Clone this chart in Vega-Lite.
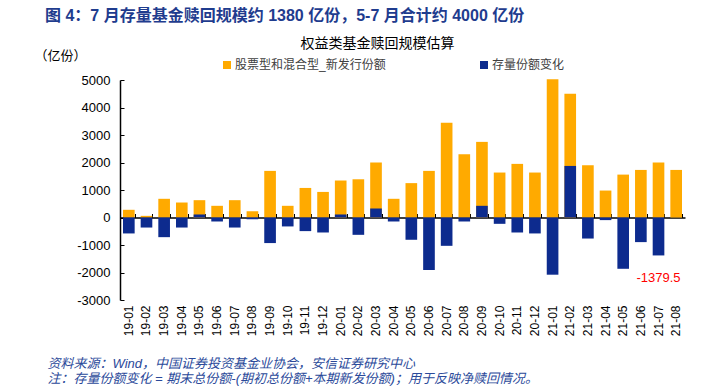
{
  "$schema": "https://vega.github.io/schema/vega-lite/v6.json",
  "width": 565,
  "height": 220,
  "autosize": {"type": "none"},
  "padding": {"left": 120, "top": 80, "right": 32, "bottom": 86},
  "background": "white",
  "config": {"view": {"stroke": null}, "font": "Liberation Sans, Noto Sans CJK SC", "axisY": {"labelOverlap": false}},
  "title": {
    "text": "图 4：7 月存量基金赎回规模约 1380 亿份，5-7 月合计约 4000 亿份",
    "anchor": "start",
    "frame": "group",
    "dx": -75,
    "offset": 12,
    "fontSize": 16,
    "fontWeight": "bold",
    "color": "#1F3C8E",
    "font": "Liberation Sans, Noto Sans CJK SC"
  },
  "data": {
    "values": [
      {"m": "19-01", "s": "股票型和混合型_新发行份额", "v": 280},
      {"m": "19-02", "s": "股票型和混合型_新发行份额", "v": 60},
      {"m": "19-03", "s": "股票型和混合型_新发行份额", "v": 680},
      {"m": "19-04", "s": "股票型和混合型_新发行份额", "v": 545},
      {"m": "19-05", "s": "股票型和混合型_新发行份额", "v": 630},
      {"m": "19-06", "s": "股票型和混合型_新发行份额", "v": 425},
      {"m": "19-07", "s": "股票型和混合型_新发行份额", "v": 630},
      {"m": "19-08", "s": "股票型和混合型_新发行份额", "v": 230},
      {"m": "19-09", "s": "股票型和混合型_新发行份额", "v": 1695},
      {"m": "19-10", "s": "股票型和混合型_新发行份额", "v": 425},
      {"m": "19-11", "s": "股票型和混合型_新发行份额", "v": 1075},
      {"m": "19-12", "s": "股票型和混合型_新发行份额", "v": 930},
      {"m": "20-01", "s": "股票型和混合型_新发行份额", "v": 1345},
      {"m": "20-02", "s": "股票型和混合型_新发行份额", "v": 1390},
      {"m": "20-03", "s": "股票型和混合型_新发行份额", "v": 2000},
      {"m": "20-04", "s": "股票型和混合型_新发行份额", "v": 680},
      {"m": "20-05", "s": "股票型和混合型_新发行份额", "v": 1250},
      {"m": "20-06", "s": "股票型和混合型_新发行份额", "v": 1695},
      {"m": "20-07", "s": "股票型和混合型_新发行份额", "v": 3450},
      {"m": "20-08", "s": "股票型和混合型_新发行份额", "v": 2300},
      {"m": "20-09", "s": "股票型和混合型_新发行份额", "v": 2750},
      {"m": "20-10", "s": "股票型和混合型_新发行份额", "v": 1635},
      {"m": "20-11", "s": "股票型和混合型_新发行份额", "v": 1950},
      {"m": "20-12", "s": "股票型和混合型_新发行份额", "v": 1635},
      {"m": "21-01", "s": "股票型和混合型_新发行份额", "v": 5030},
      {"m": "21-02", "s": "股票型和混合型_新发行份额", "v": 4500},
      {"m": "21-03", "s": "股票型和混合型_新发行份额", "v": 1900},
      {"m": "21-04", "s": "股票型和混合型_新发行份额", "v": 980},
      {"m": "21-05", "s": "股票型和混合型_新发行份额", "v": 1560},
      {"m": "21-06", "s": "股票型和混合型_新发行份额", "v": 1730},
      {"m": "21-07", "s": "股票型和混合型_新发行份额", "v": 2000},
      {"m": "21-08", "s": "股票型和混合型_新发行份额", "v": 1730},
      {"m": "19-01", "s": "存量份额变化", "v": -580},
      {"m": "19-02", "s": "存量份额变化", "v": -365},
      {"m": "19-03", "s": "存量份额变化", "v": -715},
      {"m": "19-04", "s": "存量份额变化", "v": -365},
      {"m": "19-05", "s": "存量份额变化", "v": 110},
      {"m": "19-06", "s": "存量份额变化", "v": -145},
      {"m": "19-07", "s": "存量份额变化", "v": -365},
      {"m": "19-08", "s": "存量份额变化", "v": -60},
      {"m": "19-09", "s": "存量份额变化", "v": -930},
      {"m": "19-10", "s": "存量份额变化", "v": -325},
      {"m": "19-11", "s": "存量份额变化", "v": -495},
      {"m": "19-12", "s": "存量份额变化", "v": -545},
      {"m": "20-01", "s": "存量份额变化", "v": 110},
      {"m": "20-02", "s": "存量份额变化", "v": -630},
      {"m": "20-03", "s": "存量份额变化", "v": 325},
      {"m": "20-04", "s": "存量份额变化", "v": -145},
      {"m": "20-05", "s": "存量份额变化", "v": -810},
      {"m": "20-06", "s": "存量份额变化", "v": -1910},
      {"m": "20-07", "s": "存量份额变化", "v": -1030},
      {"m": "20-08", "s": "存量份额变化", "v": -145},
      {"m": "20-09", "s": "存量份额变化", "v": 425},
      {"m": "20-10", "s": "存量份额变化", "v": -230},
      {"m": "20-11", "s": "存量份额变化", "v": -545},
      {"m": "20-12", "s": "存量份额变化", "v": -580},
      {"m": "21-01", "s": "存量份额变化", "v": -2080},
      {"m": "21-02", "s": "存量份额变化", "v": 1875},
      {"m": "21-03", "s": "存量份额变化", "v": -765},
      {"m": "21-04", "s": "存量份额变化", "v": -95},
      {"m": "21-05", "s": "存量份额变化", "v": -1865},
      {"m": "21-06", "s": "存量份额变化", "v": -895},
      {"m": "21-07", "s": "存量份额变化", "v": -1379.5}
    ]
  },
  "layer": [
    {
      "mark": {"type": "bar"},
      "encoding": {
        "x": {
          "field": "m",
          "type": "ordinal",
          "sort": null,
          "scale": {"paddingInner": 0.34, "paddingOuter": 0.17},
          "axis": {
            "orient": "bottom",
            "domain": false,
            "ticks": false,
            "labelAngle": 270,
            "labelPadding": 5,
            "labelFontSize": 12,
            "labelColor": "#000000",
            "title": ["资料来源：Wind，中国证券投资基金业协会，安信证券研究中心", "注：存量份额变化 = 期末总份额-(期初总份额+本期新发份额)；用于反映净赎回情况。"],
            "titleX": -73,
            "titleY": 63,
            "titleAlign": "left",
            "titleBaseline": "middle",
            "titleAngle": 0,
            "titleFontSize": 13,
            "titleFontStyle": "italic",
            "titleFontWeight": "normal",
            "titleColor": "#2B4A9A",
            "titleLineHeight": 15
          }
        },
        "y": {
          "field": "v",
          "type": "quantitative",
          "stack": null,
          "scale": {"domain": [-3000, 5000], "nice": false, "zero": false},
          "axis": {
            "orient": "left",
            "values": [-3000, -2000, -1000, 0, 1000, 2000, 3000, 4000, 5000],
            "labelExpr": "datum.value + ''",
            "labelOverlap": false,
            "grid": false,
            "domain": true,
            "domainColor": "#000000",
            "domainWidth": 1.5,
            "ticks": true,
            "tickColor": "#000000",
            "tickSize": -4,
            "labelPadding": 14,
            "labelFontSize": 13,
            "labelColor": "#000000",
            "title": "（亿份）",
            "titleAngle": 0,
            "titleX": -60,
            "titleY": -25,
            "titleAlign": "center",
            "titleBaseline": "middle",
            "titleFontSize": 13,
            "titleFontWeight": "normal",
            "titleColor": "#000000"
          }
        },
        "color": {
          "field": "s",
          "type": "nominal",
          "scale": {"domain": ["股票型和混合型_新发行份额", "存量份额变化"], "range": ["#FFAA00", "#0D2B8E"]},
          "legend": {
            "orient": "none",
            "legendX": 101,
            "legendY": -21,
            "direction": "horizontal",
            "title": null,
            "symbolType": "square",
            "symbolSize": 64,
            "symbolStrokeWidth": 0,
            "labelFontSize": 12,
            "labelColor": "#404040",
            "labelOffset": 2,
            "labelLimit": 400,
            "columnPadding": 92
          }
        }
      }
    },
    {
      "transform": [{"filter": "datum.m == '21-07' && datum.s == '存量份额变化'"}],
      "mark": {"type": "text", "dy": 23, "fontSize": 13, "color": "#FF0000"},
      "encoding": {
        "x": {
          "field": "m",
          "type": "ordinal",
          "sort": null,
          "axis": {
            "orient": "top",
            "offset": -137.5,
            "labels": false,
            "domain": true,
            "domainColor": "#000000",
            "domainWidth": 1.5,
            "ticks": true,
            "tickColor": "#000000",
            "tickSize": 4,
            "tickBand": "extent",
            "title": "权益类基金赎回规模估算",
            "titleX": 257,
            "titleY": -174.5,
            "titleAngle": 0,
            "titleAlign": "center",
            "titleBaseline": "middle",
            "titleFontSize": 14,
            "titleFontWeight": "normal",
            "titleColor": "#000000"
          }
        },
        "y": {"field": "v", "type": "quantitative", "axis": null},
        "text": {"field": "v", "type": "nominal"}
      }
    }
  ],
  "resolve": {"axis": {"x": "independent", "y": "independent"}}
}
